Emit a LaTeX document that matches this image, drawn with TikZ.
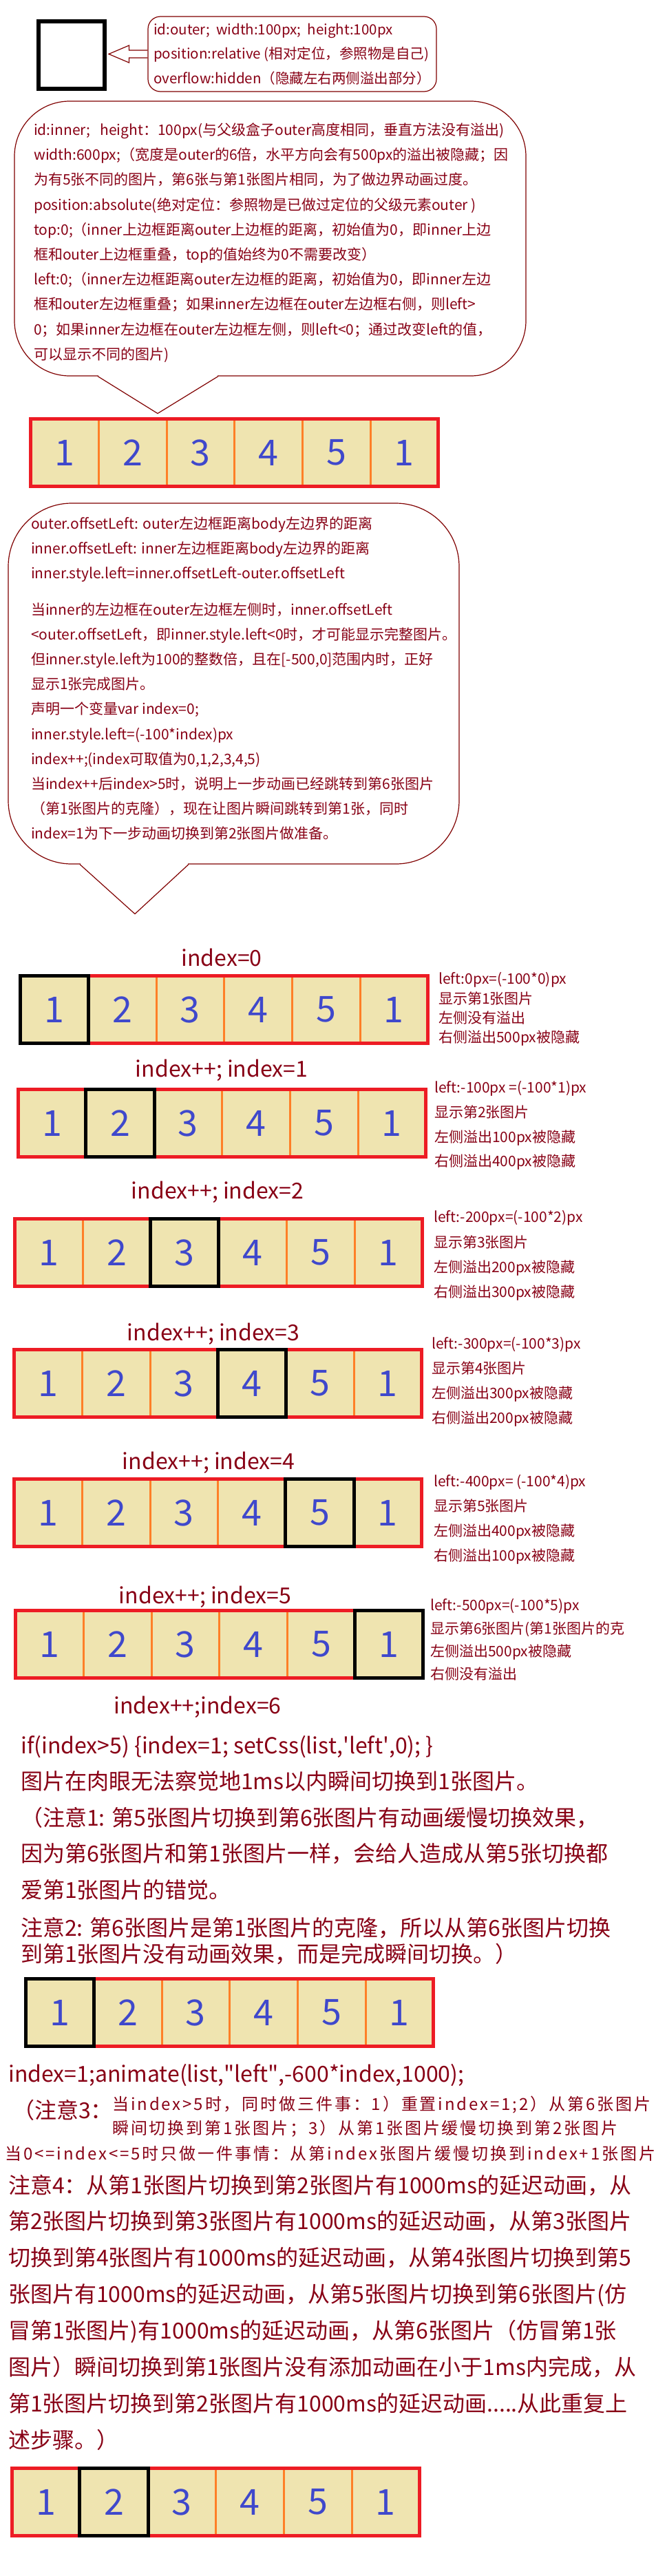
\documentclass[tikz,border=0pt]{standalone}
\usepackage{fontspec}
\setmainfont{Noto Sans CJK SC}
\newfontfamily\songfont{Noto Sans CJK SC}[LetterSpace=12]
\usepackage{tikz}

\definecolor{txtred}{HTML}{880015}
\definecolor{bubred}{HTML}{800000}
\definecolor{framered}{HTML}{ED1C24}
\definecolor{divorange}{HTML}{FF7F27}
\definecolor{cellbeige}{HTML}{EFE4B0}
\definecolor{digitblue}{HTML}{3F48CC}

\begin{document}
\begin{tikzpicture}[x=1pt, y=-1pt,
        cell_style/.style={rectangle, fill=cellbeige, minimum width=98.67pt, minimum height=98pt, inner sep=0pt, text=digitblue, font=\fontsize{52}{52}\selectfont},
        frame_style/.style={draw=framered, line width=5pt},
        divider_style/.style={draw=divorange, line width=3pt},
        selected_style/.style={draw=black, line width=5pt},
        bubble_style/.style={draw=bubred, line width=1.2pt},
        label_style/.style={text=txtred, inner sep=0pt, font=\fontsize{32}{32}\selectfont},
        note_style/.style={text=txtred, inner sep=0pt, align=left, anchor=north west, font=\fontsize{21}{36.2}\selectfont},
        big_note_style/.style={text=txtred, inner sep=0pt, align=left, anchor=north west, font=\fontsize{32}{52.6}\selectfont}]

        \fill[white] (0,0) rectangle (944,3742);

        % outer box and its description
        \node[draw=black, line width=6pt, minimum width=96pt, minimum height=98pt, inner sep=0pt] (outerbox) at (104,80) {};
        \node[bubble_style, rounded corners=18pt, minimum width=419pt, minimum height=109pt, text=txtred, align=left, inner sep=2pt, font=\fontsize{20.5}{35.5}\selectfont] (outerinfo) at (424.5,78.5)
            {id:outer;\ \ width:100px;\ \ height:100px\\ position:relative (相对定位，参照物是自己)\\ overflow:hidden（隐藏左右两侧溢出部分）};
        \coordinate (tip) at ([xshift=3pt]outerbox.east);
        \draw[bubble_style] ([yshift=5.5pt]outerinfo.west) -- ++(-27pt,0pt) -- ++(0pt,7pt) -- (tip |- outerinfo.west)
            -- ([xshift=-27pt,yshift=-12.5pt]outerinfo.west) -- ++(0pt,7pt) -- ([yshift=-5.5pt]outerinfo.west);

        % inner description bubble
        \node[bubble_style, rounded corners=80pt, minimum width=743pt, minimum height=399pt] (innerbub) at (392.5,346.5) {};
        \draw[white, line width=3pt] ([xshift=-249.5pt]innerbub.south) -- ([xshift=-76.5pt]innerbub.south);
        \draw[bubble_style] ([xshift=-250.5pt]innerbub.south) -- ([xshift=-163.5pt,yshift=-54pt]innerbub.south) -- ([xshift=-75.5pt]innerbub.south);
        \node[note_style] (innertext) at (49,178.5)
            {id:inner;\ \ \ height：100px(与父级盒子outer高度相同，垂直方法没有溢出)\\
             width:600px;（宽度是outer的6倍，水平方向会有500px的溢出被隐藏；因\\
             为有5张不同的图片，第6张与第1张图片相同，为了做边界动画过度。\\
             position:absolute(绝对定位：参照物是已做过定位的父级元素outer )\\
             top:0;（inner上边框距离outer上边框的距离，初始值为0，即inner上边\\
             框和outer上边框重叠，top的值始终为0不需要改变）\\
             left:0;（inner左边框距离outer左边框的距离，初始值为0，即inner左边\\
             框和outer左边框重叠；如果inner左边框在outer左边框右侧，则left>\\
             0；如果inner左边框在outer左边框左侧，则left<0；通过改变left的值，\\
             可以显示不同的图片)};

        % offsetLeft bubble
        \node[bubble_style, rounded corners=92pt, minimum width=655pt, minimum height=524pt] (offsetbub) at (339.5,993) {};
        \draw[white, line width=3pt] ([xshift=-222.5pt]offsetbub.south) -- ([xshift=-66.5pt]offsetbub.south);
        \draw[bubble_style] ([xshift=-223.5pt]offsetbub.south) -- ([xshift=-143.5pt,yshift=-72pt]offsetbub.south) -- ([xshift=-65.5pt]offsetbub.south);
        \node[note_style] (offsettext) at (45,750.5)
            {outer.offsetLeft: outer左边框距离body左边界的距离\\
             inner.offsetLeft: inner左边框距离body左边界的距离\\
             inner.style.left=inner.offsetLeft-outer.offsetLeft\\[16pt]
             当inner的左边框在outer左边框左侧时，inner.offsetLeft\\
             <outer.offsetLeft，即inner.style.left<0时，才可能显示完整图片。\\
             但inner.style.left为100的整数倍，且在[-500,0]范围内时，正好\\
             显示1张完成图片。\\
             声明一个变量var index=0;\\
             inner.style.left=(-100*index)px\\
             index++;(index可取值为0,1,2,3,4,5)\\
             当index++后index>5时，说明上一步动画已经跳转到第6张图片\\
             （第1张图片的克隆），现在让图片瞬间跳转到第1张，同时\\
             index=1为下一步动画切换到第2张图片做准备。};

        % picture strips
        \foreach \rw/\sx/\sy/\sel in {s/42/606/0, a/27/1415/1, b/24/1580/2, c/19/1768/3, d/18/1958/4, e/18/2146/5, f/20/2337/6, g/35/2872/1, h/15/3583/2} {
            \foreach \cl/\dg in {1/1, 2/2, 3/3, 4/4, 5/5, 6/1}
                \node[cell_style] (\rw\cl) at ({\sx+2.5+(\cl-0.5)*98.67}, {\sy+51.5}) {\dg};
            \foreach \cl in {1,...,5}
                \draw[divider_style] (\rw\cl.north east) -- (\rw\cl.south east);
            \draw[frame_style] (\rw1.north west) rectangle (\rw6.south east);
            \ifnum\sel>0
                \draw[selected_style] (\rw\sel.north west) rectangle (\rw\sel.south east);
            \fi
        }

        % step labels
        \node[label_style] (lab0) at (322,1391) {index=0};
        \node[label_style] (lab1) at (322,1555) {index++; index=1};
        \node[label_style] (lab2) at (316,1732) {index++; index=2};
        \node[label_style] (lab3) at (310,1938) {index++; index=3};
        \node[label_style] (lab4) at (303,2125) {index++; index=4};
        \node[label_style] (lab5) at (298,2320) {index++; index=5};
        \node[label_style] (lab6) at (287,2480) {index++;index=6};

        % step notes
        \node[note_style, font=\fontsize{21}{28.3}\selectfont] (ann0) at (637,1412.5) {left:0px=(-100*0)px\\ 显示第1张图片\\ 左侧没有溢出\\ 右侧溢出500px被隐藏};
        \node[note_style, font=\fontsize{21}{35.7}\selectfont] (ann1) at (631,1570.5) {left:-100px =(-100*1)px\\ 显示第2张图片\\ 左侧溢出100px被隐藏\\ 右侧溢出400px被隐藏};
        \node[note_style, font=\fontsize{21}{36.3}\selectfont] (ann2) at (630,1758.5) {left:-200px=(-100*2)px\\ 显示第3张图片\\ 左侧溢出200px被隐藏\\ 右侧溢出300px被隐藏};
        \node[note_style, font=\fontsize{21}{35.7}\selectfont] (ann3) at (627,1942.5) {left:-300px=(-100*3)px\\ 显示第4张图片\\ 左侧溢出300px被隐藏\\ 右侧溢出200px被隐藏};
        \node[note_style, font=\fontsize{21}{35.7}\selectfont] (ann4) at (630,2142.5) {left:-400px= (-100*4)px\\ 显示第5张图片\\ 左侧溢出400px被隐藏\\ 右侧溢出100px被隐藏};
        \node[note_style, font=\fontsize{21}{33.3}\selectfont] (ann5) at (625,2322.5) {left:-500px=(-100*5)px\\ 显示第6张图片(第1张图片的克\\ 左侧溢出500px被隐藏\\ 右侧没有溢出};

        % reset explanation
        \node[big_note_style] (ifnote) at (30,2520.6)
            {if(index>5) \{index=1; setCss(list,\textquotesingle left\textquotesingle,0); \}\\
             图片在肉眼无法察觉地1ms以内瞬间切换到1张图片。\\
             （注意1: 第5张图片切换到第6张图片有动画缓慢切换效果，\\
             因为第6张图片和第1张图片一样，会给人造成从第5张切换都\\
             爱第1张图片的错觉。};
        \node[big_note_style, font=\fontsize{32}{38.5}\selectfont] (note2) at (30,2784.6)
            {注意2: 第6张图片是第1张图片的克隆，所以从第6张图片切换\\
             到第1张图片没有动画效果，而是完成瞬间切换。）};
        \node[label_style, anchor=west] (animline) at (12,3015) {index=1;animate(list,\textquotedbl left\textquotedbl,-600*index,1000);};
        \node[label_style, anchor=west] (note3) at (18,3065) {（注意3：};
        \node[note_style, font=\songfont\fontsize{24}{35}\selectfont] (note3a) at (163,3045)
            {当index>5时，同时做三件事：1）重置index=1;2）从第6张图片\\
             瞬间切换到第1张图片；3）从第1张图片缓慢切换到第2张图片};
        \node[note_style, font=\songfont\fontsize{24}{35}\selectfont] (note3b) at (7,3117)
            {当0<=index<=5时只做一件事情：从第index张图片缓慢切换到index+1张图片};
        \node[big_note_style, font=\fontsize{32}{52.9}\selectfont] (note4) at (12,3158.6)
            {注意4：从第1张图片切换到第2张图片有1000ms的延迟动画，从\\
             第2张图片切换到第3张图片有1000ms的延迟动画，从第3张图片\\
             切换到第4张图片有1000ms的延迟动画，从第4张图片切换到第5\\
             张图片有1000ms的延迟动画，从第5张图片切换到第6张图片(仿\\
             冒第1张图片)有1000ms的延迟动画，从第6张图片（仿冒第1张\\
             图片）瞬间切换到第1张图片没有添加动画在小于1ms内完成，从\\
             第1张图片切换到第2张图片有1000ms的延迟动画.....从此重复上\\
             述步骤。）};
\end{tikzpicture}
\end{document}
